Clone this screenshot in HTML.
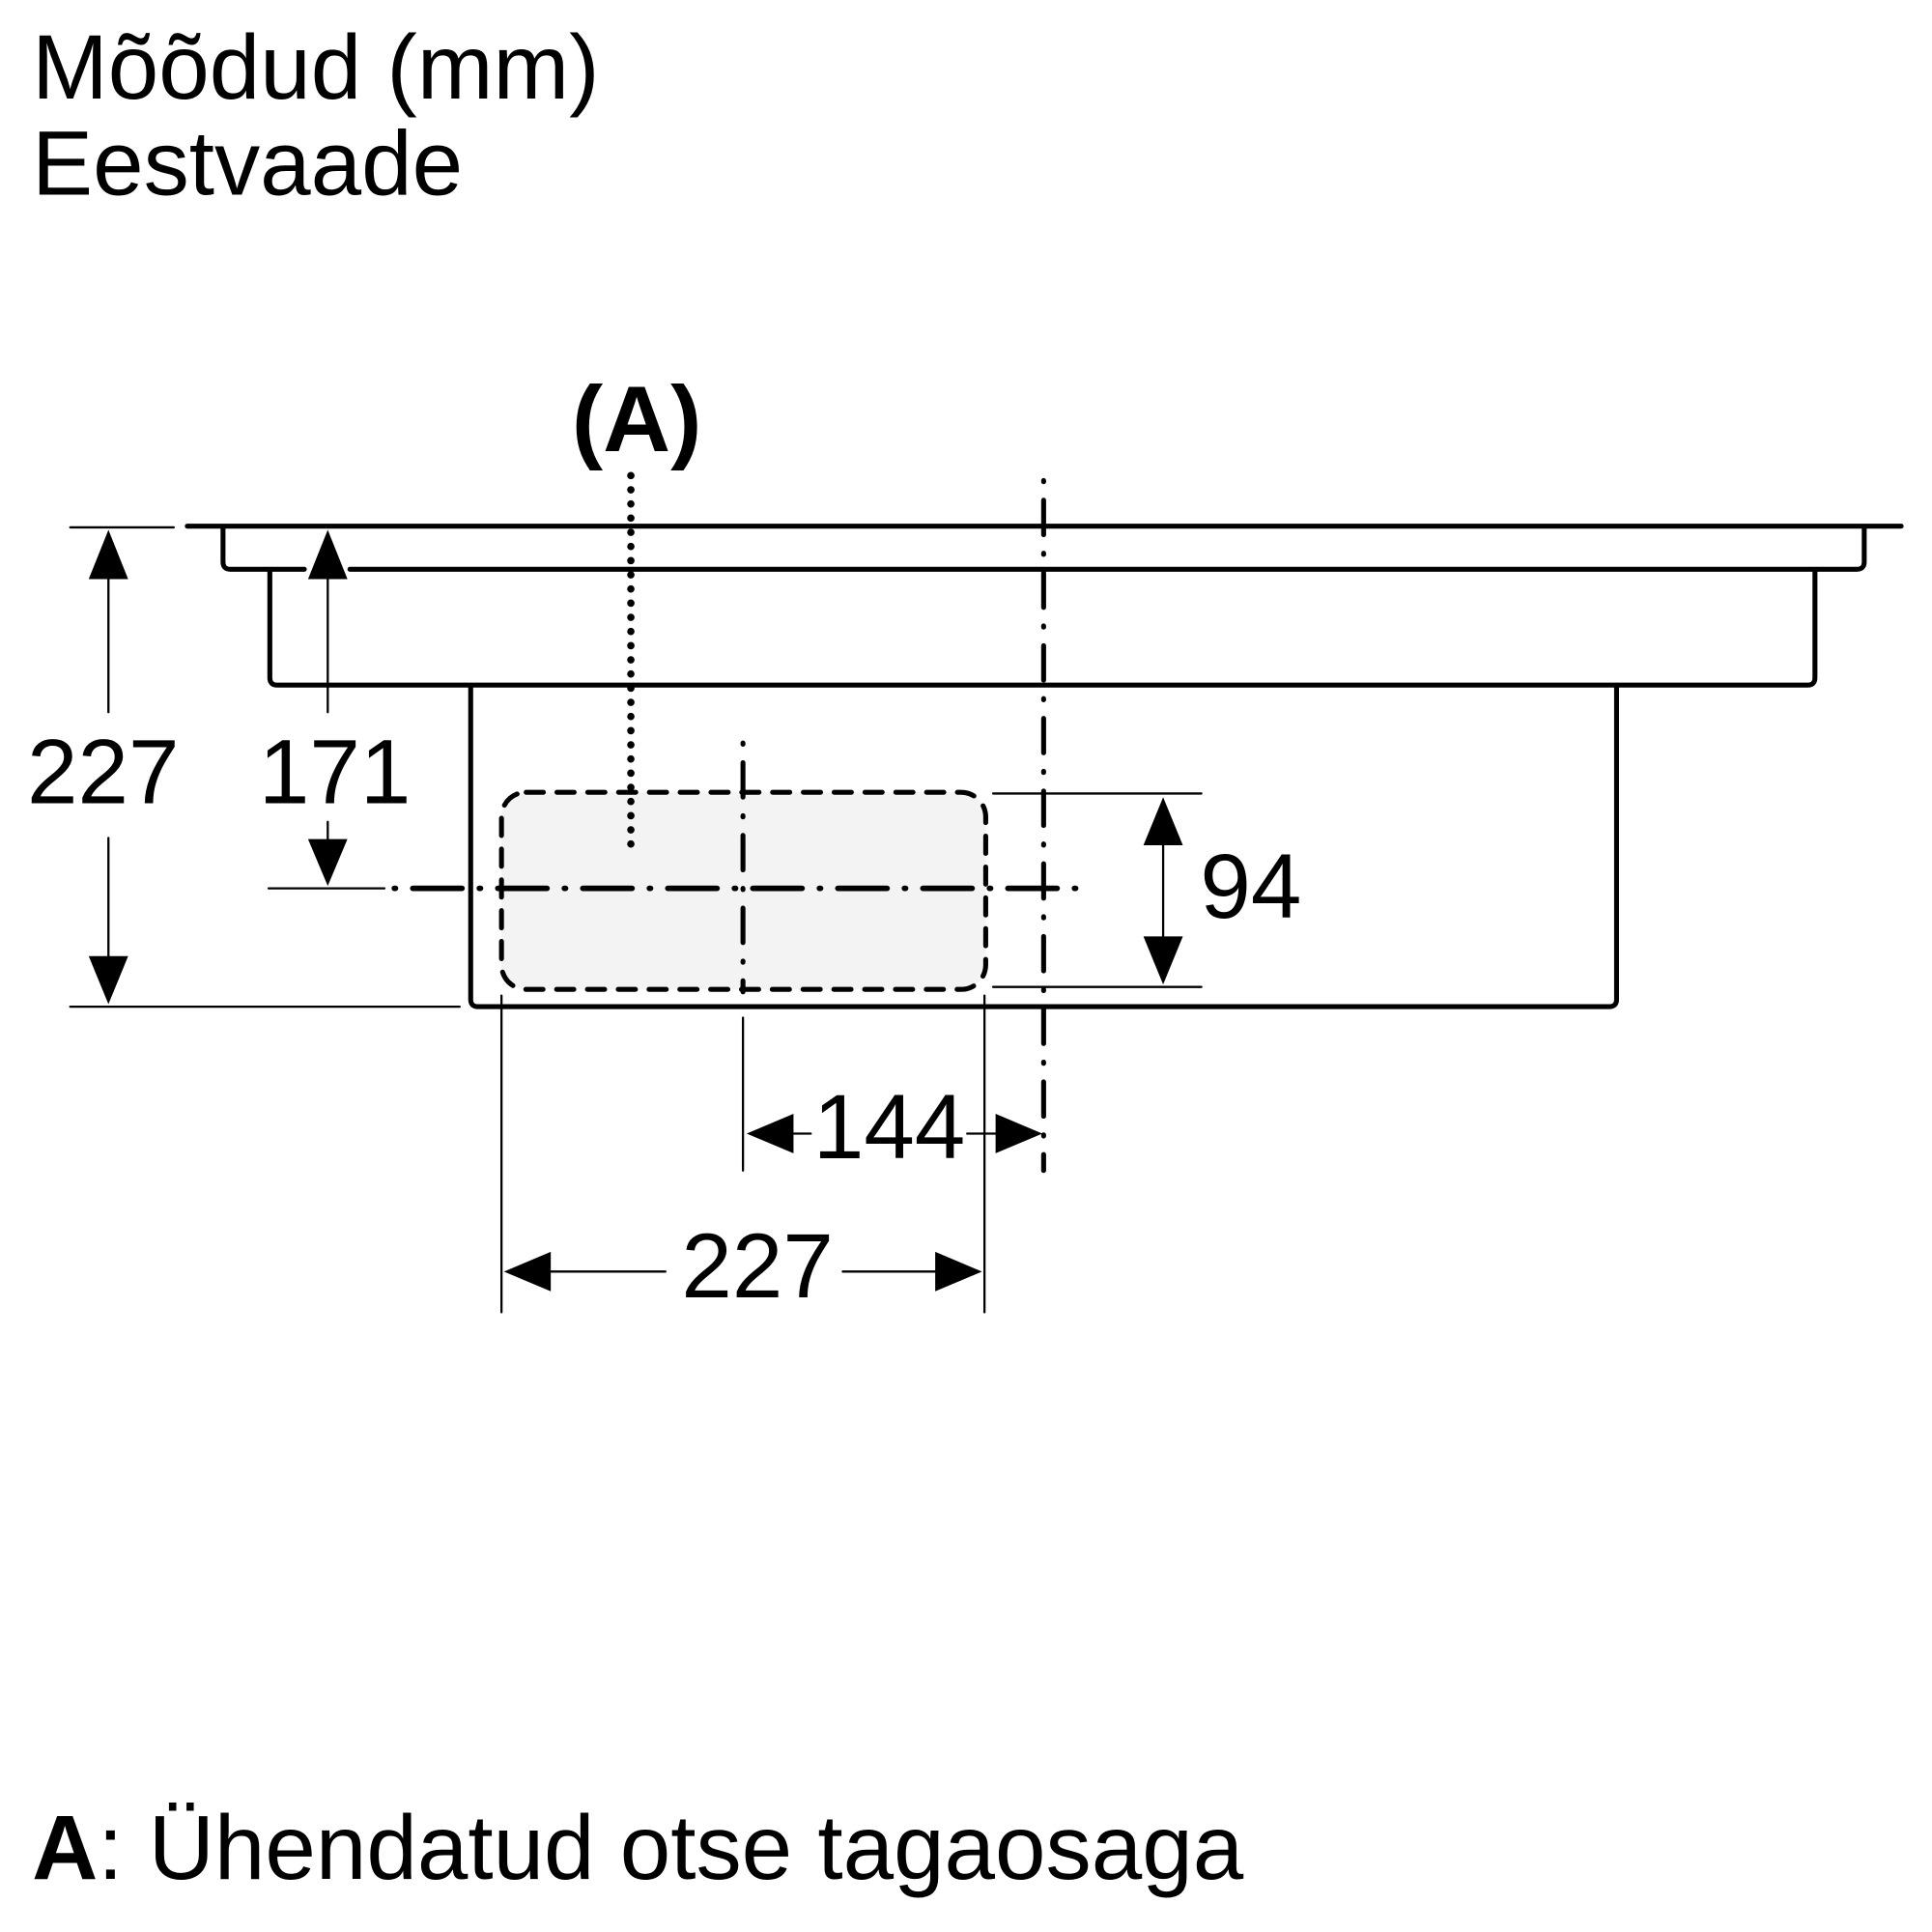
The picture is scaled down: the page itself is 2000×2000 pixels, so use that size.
<!DOCTYPE html>
<html><head><style>html,body{margin:0;padding:0;background:#fff}svg{display:block}</style></head>
<body>
<svg width="2000" height="2000" viewBox="0 0 1568 1568" xmlns="http://www.w3.org/2000/svg" font-family="Liberation Sans, sans-serif">
<rect width="1568" height="1568" fill="#fff"/>
<text x="26" y="80" font-size="74">Mõõdud (mm)</text>
<text x="26" y="158" font-size="74">Eestvaade</text>
<text x="464" y="366" font-size="76" font-weight="bold">(A)</text>
<g fill="none" stroke="#000" stroke-linecap="round" stroke-linejoin="round">
<rect x="407" y="643" width="393" height="160" rx="20" fill="#f3f3f3" stroke-width="4" stroke-dasharray="14,11"/>
<line x1="152" y1="427" x2="1543" y2="427" stroke-width="4"/>
<path d="M181 428 V456 Q181 462 187 462 H247 M284 462 H1507 Q1513 462 1513 456 V428" stroke-width="4"/>
<path d="M219 464 V550 Q219 556 225 556 H1467 Q1473 556 1473 550 V464" stroke-width="4"/>
<path d="M382 557 V811 Q382 817 388 817 H1306 Q1312 817 1312 811 V557" stroke-width="4"/>
<line x1="512" y1="386" x2="512" y2="686" stroke-width="6" stroke-dasharray="0,11.5"/>
<line x1="847" y1="390" x2="847" y2="950" stroke-width="4" stroke-dasharray="1,15,28,15"/>
<line x1="603" y1="603" x2="603" y2="805" stroke-width="4" stroke-dasharray="1,15,28,15"/>
<line x1="320" y1="721" x2="880" y2="721" stroke-width="4.5" stroke-dasharray="1,14,40,14"/>
<g stroke-width="1.8">
<line x1="57" y1="428" x2="141" y2="428"/>
<line x1="57" y1="817" x2="373" y2="817"/>
<line x1="88" y1="465" x2="88" y2="578"/><line x1="88" y1="680" x2="88" y2="778"/>
<line x1="266" y1="465" x2="266" y2="578"/><line x1="266" y1="667" x2="266" y2="684"/>
<line x1="218" y1="721" x2="312" y2="721"/>
<line x1="806" y1="644" x2="975" y2="644"/><line x1="806" y1="801" x2="975" y2="801"/>
<line x1="944" y1="684" x2="944" y2="762"/>
<line x1="603" y1="826" x2="603" y2="950"/>
<line x1="640" y1="920" x2="658" y2="920"/><line x1="785" y1="920" x2="810" y2="920"/>
<line x1="407" y1="808" x2="407" y2="1065"/><line x1="799" y1="808" x2="799" y2="1065"/>
<line x1="445" y1="1032" x2="540" y2="1032"/><line x1="684" y1="1032" x2="762" y2="1032"/>
</g>
</g>
<g fill="#000">
<polygon points="88,430 72,470 104,470"/><polygon points="88,815 72,776 104,776"/>
<polygon points="266,430 250,470 282,470"/><polygon points="266,719 250,681 282,681"/>
<polygon points="944,647 928,686 960,686"/><polygon points="944,799 928,760 960,760"/>
<polygon points="606,920 644,904 644,936"/><polygon points="846,920 808,904 808,936"/>
<polygon points="409,1032 447,1016 447,1048"/><polygon points="797,1032 759,1016 759,1048"/>
</g>
<g font-size="74">
<text x="22" y="652">227</text>
<text x="210" y="652">171</text>
<text x="974" y="745">94</text>
<text x="660" y="940">144</text>
<text x="553" y="1053">227</text>
</g>
<text x="26" y="1525" font-size="74"><tspan font-weight="bold">A</tspan>: Ühendatud otse tagaosaga</text>
</svg>
</body></html>
